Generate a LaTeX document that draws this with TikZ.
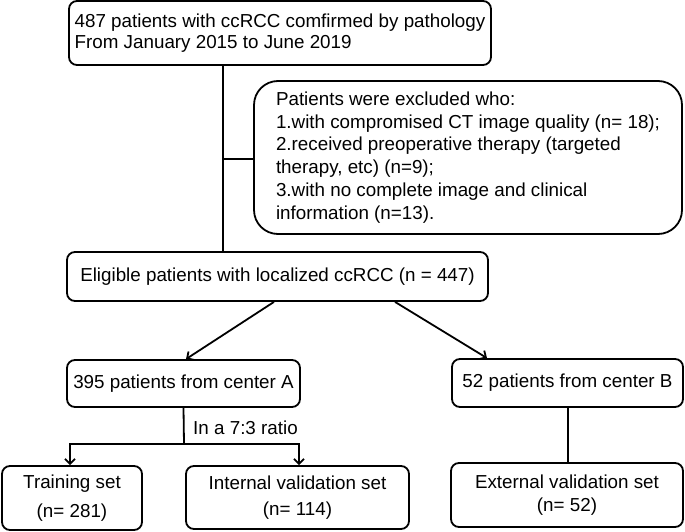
\documentclass[tikz,border=0pt]{standalone}
\usepackage{fontspec}
\setmainfont{Liberation Sans}
\usetikzlibrary{arrows.meta}
\begin{document}
\begin{tikzpicture}[x=1pt,y=-1pt,
  box/.style={draw, line width=1.8pt, rounded corners=8pt, inner sep=0pt, align=center},
  link/.style={line width=1.8pt},
  arr/.style={line width=1.8pt, -{Straight Barb[length=5pt,width=10pt]}}]
\useasboundingbox (0,0) rectangle (685,532);
\node[box, minimum width=422pt, minimum height=64pt, align=left, font=\fontsize{18.8}{21}\selectfont] (top) at (280,33)
  {487 patients with ccRCC comfirmed by pathology\\From January 2015 to June 2019};
\node[box, rounded corners=24pt, minimum width=428pt, minimum height=153pt, align=left, font=\fontsize{18.8}{22.8}\selectfont] (excl) at (468,157.5)
  {Patients were excluded who:\\1.with compromised CT image quality (n= 18);\\2.received preoperative therapy (targeted\\therapy, etc) (n=9);\\3.with no complete image and clinical\\information (n=13).};
\node[box, minimum width=421pt, minimum height=49pt, font=\fontsize{18.8}{23}\selectfont] (elig) at (277.5,276.5)
  {Eligible patients with localized ccRCC (n = 447)};
\node[box, minimum width=233pt, minimum height=47pt, font=\fontsize{18.8}{23}\selectfont] (ca) at (183.5,383.5)
  {395 patients from center A};
\node[box, minimum width=231pt, minimum height=48pt, font=\fontsize{18.8}{23}\selectfont] (cb) at (567.5,383)
  {52 patients from center B};
\node[box, minimum width=140pt, minimum height=64pt, font=\fontsize{18.8}{29}\selectfont] (train) at (72,498)
  {Training set\\(n= 281)};
\node[box, minimum width=223pt, minimum height=63pt, font=\fontsize{18.8}{26}\selectfont] (intv) at (297.5,497.5)
  {Internal validation set\\(n= 114)};
\node[box, minimum width=232pt, minimum height=64pt, font=\fontsize{18.8}{23}\selectfont] (extv) at (567,495)
  {External validation set\\(n= 52)};
\node[font=\fontsize{18.8}{23}\selectfont, inner sep=0pt] (ratio) at (245.5,428) {In a 7:3 ratio};
% connectors
\draw[link] ([xshift=-57pt]top.south) -- ([xshift=-54.5pt]elig.north);
\coordinate (br) at (223,159);
\draw[link] (br) -- (br -| excl.west);
\draw[arr] ([xshift=-3.5pt]elig.south) -- ([xshift=2.5pt]ca.north);
\draw[arr] ([xshift=117.5pt]elig.south) -- ([xshift=-80.5pt]cb.north);
\coordinate (split) at (184,444);
\draw[link] (ca.south) -- (split);
\draw[arr] (split) -| ([xshift=-2pt]train.north);
\draw[arr] (split) -| ([xshift=1.5pt]intv.north);
\draw[link] ([xshift=0.5pt]cb.south) -- ([xshift=0.5pt]cb.south |- extv.north);
\end{tikzpicture}
\end{document}
